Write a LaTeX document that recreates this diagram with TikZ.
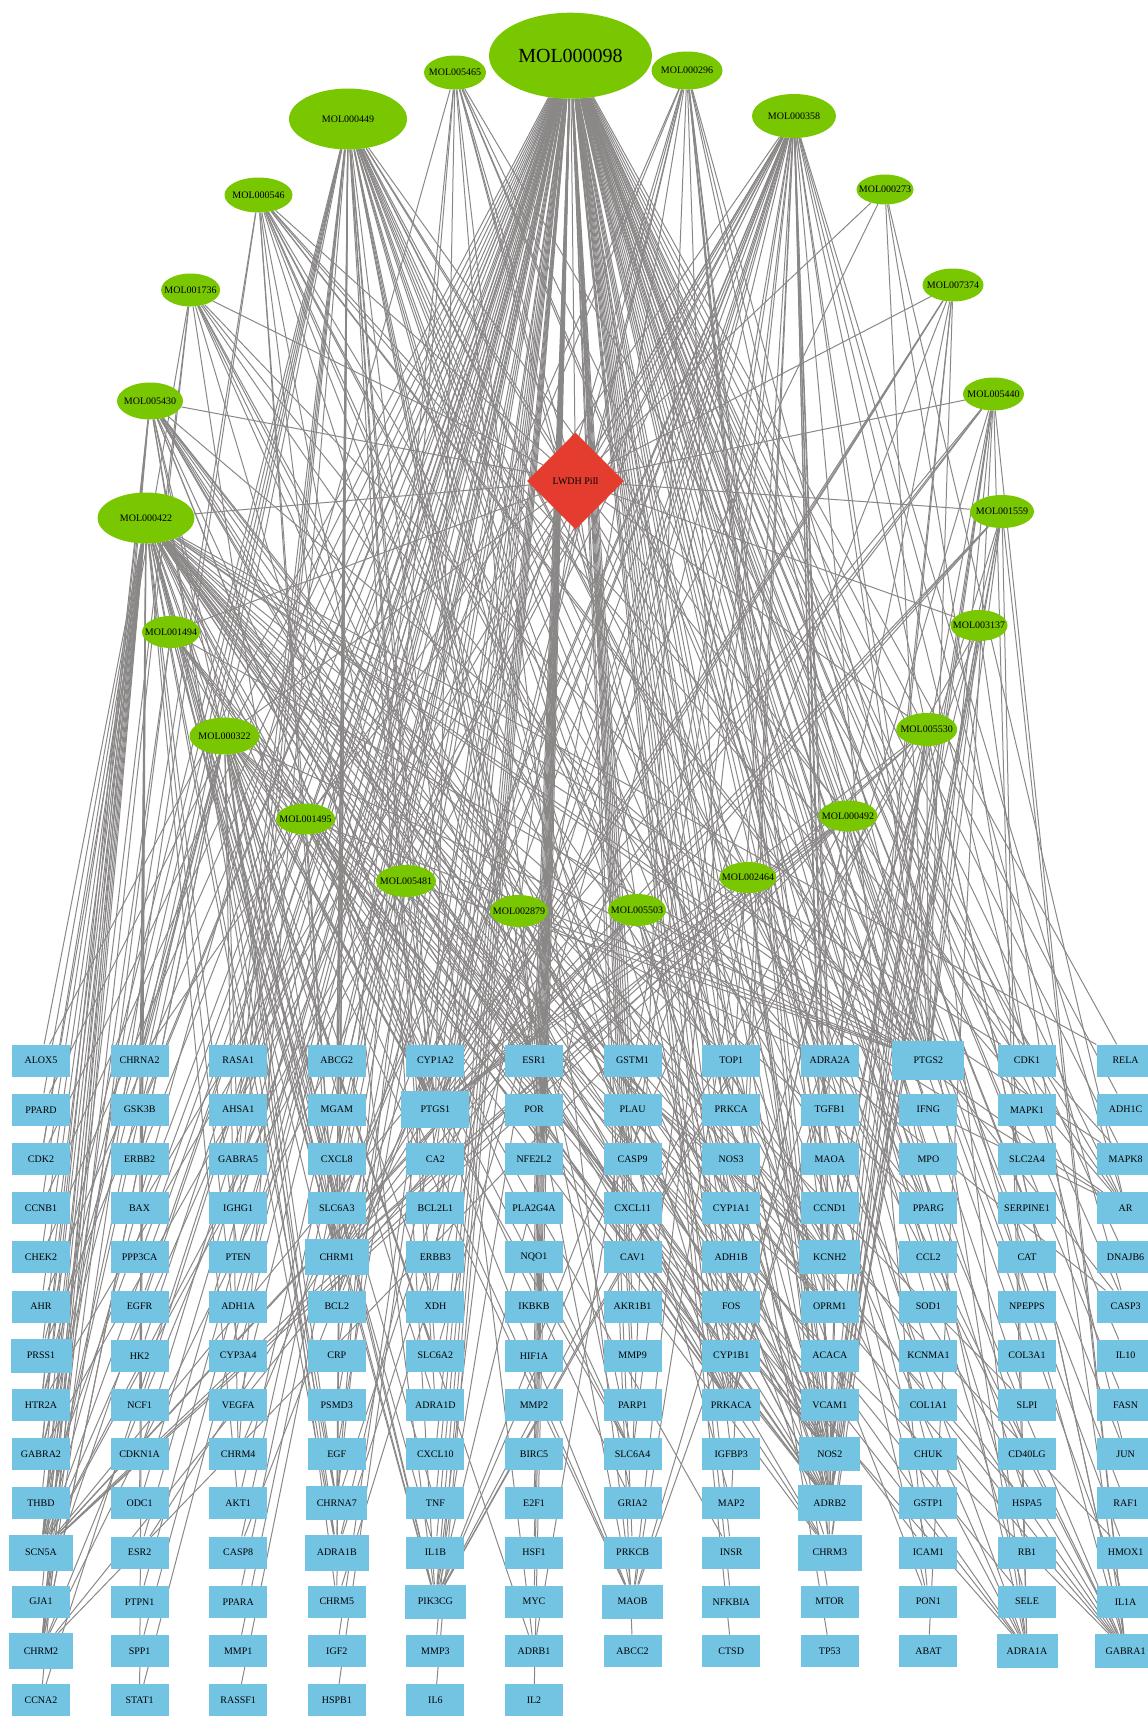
\documentclass[tikz,border=0pt]{standalone}
\usepackage{fontspec}
\setmainfont{Liberation Serif}
\usetikzlibrary{shapes.geometric,backgrounds}

\definecolor{molgreen}{RGB}{120,199,0}
\definecolor{tgtblue}{RGB}{115,195,227}
\definecolor{pillred}{RGB}{228,61,48}
\definecolor{linkgray}{RGB}{138,135,135}

\tikzset{
  mol/.style={ellipse, fill=molgreen, inner sep=0pt, font=\fontsize{10}{12}\selectfont},
  pill/.style={diamond, fill=pillred, inner sep=0pt, aspect=1, minimum width=97pt, minimum height=97pt, font=\fontsize{10}{12}\selectfont},
  tgt/.style={rectangle, fill=tgtblue, inner sep=0pt, font=\fontsize{10}{12}\selectfont},
  sz0/.style={minimum width=58pt, minimum height=32pt},
  sz1/.style={minimum width=61pt, minimum height=34pt},
  sz2/.style={minimum width=64pt, minimum height=36pt},
  sz3/.style={minimum width=68pt, minimum height=37pt},
  sz4/.style={minimum width=72pt, minimum height=39pt},
  link/.style={draw=linkgray, line width=1pt},
}
\newcommand{\molname}[1]{\makebox[0pt]{#1}}

\begin{document}
\begin{tikzpicture}[x=1pt, y=-1pt]
    \useasboundingbox (0,0) rectangle (1148,1717);

    % compounds
    \node[mol, minimum width=163pt, minimum height=86pt, font=\fontsize{20}{24}\selectfont] at (570.5,55.7) (MOL000098) {\molname{MOL000098}};
    \node[mol, minimum width=62pt, minimum height=34pt] at (455,72.5) (MOL005465) {\molname{MOL005465}};
    \node[mol, minimum width=71pt, minimum height=38pt] at (687,70.5) (MOL000296) {\molname{MOL000296}};
    \node[mol, minimum width=118pt, minimum height=61pt] at (348,119) (MOL000449) {\molname{MOL000449}};
    \node[mol, minimum width=84pt, minimum height=44pt] at (794,116) (MOL000358) {\molname{MOL000358}};
    \node[mol, minimum width=68pt, minimum height=35pt] at (258.5,195) (MOL000546) {\molname{MOL000546}};
    \node[mol, minimum width=57pt, minimum height=30pt] at (885,189.5) (MOL000273) {\molname{MOL000273}};
    \node[mol, minimum width=59pt, minimum height=33pt] at (190.6,290) (MOL001736) {\molname{MOL001736}};
    \node[mol, minimum width=61pt, minimum height=33pt] at (953,285) (MOL007374) {\molname{MOL007374}};
    \node[mol, minimum width=66pt, minimum height=37pt] at (150,401) (MOL005430) {\molname{MOL005430}};
    \node[mol, minimum width=61pt, minimum height=33pt] at (993.5,394) (MOL005440) {\molname{MOL005440}};
    \node[mol, minimum width=97pt, minimum height=51pt] at (146,518) (MOL000422) {\molname{MOL000422}};
    \node[mol, minimum width=64pt, minimum height=33pt] at (1002,511.5) (MOL001559) {\molname{MOL001559}};
    \node[mol, minimum width=58pt, minimum height=32pt] at (171,632) (MOL001494) {\molname{MOL001494}};
    \node[mol, minimum width=57pt, minimum height=31pt] at (979,625.5) (MOL003137) {\molname{MOL003137}};
    \node[mol, minimum width=70pt, minimum height=37pt] at (224.5,736) (MOL000322) {\molname{MOL000322}};
    \node[mol, minimum width=61pt, minimum height=33pt] at (926.7,729.5) (MOL005530) {\molname{MOL005530}};
    \node[mol, minimum width=59pt, minimum height=31pt] at (305.6,819) (MOL001495) {\molname{MOL001495}};
    \node[mol, minimum width=59pt, minimum height=31pt] at (848,816) (MOL000492) {\molname{MOL000492}};
    \node[mol, minimum width=60pt, minimum height=32pt] at (406,881) (MOL005481) {\molname{MOL005481}};
    \node[mol, minimum width=57pt, minimum height=31pt] at (748,877.5) (MOL002464) {\molname{MOL002464}};
    \node[mol, minimum width=58pt, minimum height=32pt] at (519,911) (MOL002879) {\molname{MOL002879}};
    \node[mol, minimum width=58pt, minimum height=32pt] at (637,910) (MOL005503) {\molname{MOL005503}};

    % the formula
    \node[pill] at (575.5,481) (LWDH) {LWDH Pill};

    % targets, column by column
    \foreach \g/\s [count=\r] in {ALOX5/0, PPARD/0, CDK2/0, CCNB1/0, CHEK2/0, AHR/0, PRSS1/1, HTR2A/0, GABRA2/0, THBD/0, SCN5A/2, GJA1/0, CHRM2/2, CCNA2/0}
        \node[tgt, sz\s] at (41, {1060.5+49.2*(\r-1)}) (\g) {\g};
    \foreach \g/\s [count=\r] in {CHRNA2/0, GSK3B/0, ERBB2/0, BAX/0, PPP3CA/0, EGFR/0, HK2/0, NCF1/0, CDKN1A/0, ODC1/0, ESR2/0, PTPN1/0, SPP1/0, STAT1/0}
        \node[tgt, sz\s] at (139.6, {1060.5+49.2*(\r-1)}) (\g) {\g};
    \foreach \g/\s [count=\r] in {RASA1/0, AHSA1/0, GABRA5/0, IGHG1/0, PTEN/0, ADH1A/0, CYP3A4/0, VEGFA/0, CHRM4/0, AKT1/0, CASP8/0, PPARA/0, MMP1/0, RASSF1/0}
        \node[tgt, sz\s] at (238.2, {1060.5+49.2*(\r-1)}) (\g) {\g};
    \foreach \g/\s [count=\r] in {ABCG2/0, MGAM/0, CXCL8/0, SLC6A3/0, CHRM1/2, BCL2/0, CRP/0, PSMD3/0, EGF/0, CHRNA7/1, ADRA1B/2, CHRM5/0, IGF2/0, HSPB1/0}
        \node[tgt, sz\s] at (336.8, {1060.5+49.2*(\r-1)}) (\g) {\g};
    \foreach \g/\s [count=\r] in {CYP1A2/0, PTGS1/3, CA2/0, BCL2L1/0, ERBB3/0, XDH/0, SLC6A2/0, ADRA1D/0, CXCL10/0, TNF/0, IL1B/0, PIK3CG/1, MMP3/0, IL6/0}
        \node[tgt, sz\s] at (435.4, {1060.5+49.2*(\r-1)}) (\g) {\g};
    \foreach \g/\s [count=\r] in {ESR1/0, POR/0, NFE2L2/0, PLA2G4A/0, NQO1/0, IKBKB/0, HIF1A/0, MMP2/0, BIRC5/0, E2F1/0, HSF1/0, MYC/0, ADRB1/0, IL2/0}
        \node[tgt, sz\s] at (534, {1060.5+49.2*(\r-1)}) (\g) {\g};
    \foreach \g/\s [count=\r] in {GSTM1/0, PLAU/0, CASP9/0, CXCL11/0, CAV1/0, AKR1B1/0, MMP9/0, PARP1/0, SLC6A4/0, GRIA2/0, PRKCB/0, MAOB/1, ABCC2/0}
        \node[tgt, sz\s] at (632.6, {1060.5+49.2*(\r-1)}) (\g) {\g};
    \foreach \g/\s [count=\r] in {TOP1/0, PRKCA/0, NOS3/0, CYP1A1/0, ADH1B/0, FOS/0, CYP1B1/0, PRKACA/0, IGFBP3/0, MAP2/0, INSR/0, NFKBIA/0, CTSD/0}
        \node[tgt, sz\s] at (731.2, {1060.5+49.2*(\r-1)}) (\g) {\g};
    \foreach \g/\s [count=\r] in {ADRA2A/0, TGFB1/0, MAOA/0, CCND1/0, KCNH2/1, OPRM1/0, ACACA/0, VCAM1/0, NOS2/1, ADRB2/2, CHRM3/2, MTOR/0, TP53/0}
        \node[tgt, sz\s] at (829.8, {1060.5+49.2*(\r-1)}) (\g) {\g};
    \foreach \g/\s [count=\r] in {PTGS2/4, IFNG/0, MPO/0, PPARG/0, CCL2/0, SOD1/0, KCNMA1/0, COL1A1/0, CHUK/0, GSTP1/0, ICAM1/0, PON1/0, ABAT/0}
        \node[tgt, sz\s] at (928.4, {1060.5+49.2*(\r-1)}) (\g) {\g};
    \foreach \g/\s [count=\r] in {CDK1/0, MAPK1/0, SLC2A4/0, SERPINE1/0, CAT/0, NPEPPS/0, COL3A1/0, SLPI/0, CD40LG/0, HSPA5/0, RB1/0, SELE/0, ADRA1A/1}
        \node[tgt, sz\s] at (1027, {1060.5+49.2*(\r-1)}) (\g) {\g};
    \foreach \g/\s [count=\r] in {RELA/0, ADH1C/0, MAPK8/0, AR/0, DNAJB6/0, CASP3/0, IL10/0, FASN/0, JUN/0, RAF1/0, HMOX1/0, IL1A/0, GABRA1/1}
        \node[tgt, sz\s] at (1125.6, {1060.5+49.2*(\r-1)}) (\g) {\g};

    \begin{pgfonlayer}{background}
    % formula -- compounds
    \foreach \m in {MOL000098, MOL005465, MOL000296, MOL000449, MOL000358, MOL000546, MOL000273, MOL001736, MOL007374, MOL005430, MOL005440, MOL000422, MOL001559, MOL001494, MOL003137, MOL000322, MOL005530, MOL001495, MOL000492, MOL005481, MOL002464, MOL002879, MOL005503}
        \draw[link] (LWDH) -- (\m);

    % compounds -- targets
    \foreach \t in {PTGS1, PTGS2, AR, PPARG, ADRB2, PRKACA, PIK3CG, CCNA2, CDK2, GSK3B, PRSS1, NOS2, ESR1, ESR2, AKT1, VEGFA, TNF, IL6, CASP3, MYC, EGFR, EGF, CCND1, MMP9, MAPK1, JUN, IL1B, MMP2, HIF1A, FOS, CXCL8, CDKN1A, MAPK8, ICAM1, SELE, VCAM1, IL10, ERBB2, ERBB3, NFKBIA, TP53, BCL2, BAX, BCL2L1, CASP9, CASP8, RELA, IKBKB, CHUK, NFE2L2, HMOX1, NQO1, GSTP1, GSTM1, CYP1A1, CYP1A2, CYP1B1, CYP3A4, PLAU, MMP1, MMP3, IFNG, CCL2, CXCL10, CXCL11, IL1A, IL2, SPP1, COL1A1, COL3A1, TOP1, PARP1, XDH, SOD1, CAT, MPO, INSR, AHR, ABCG2, ABCC2, ALOX5, AKR1B1, ACACA, CHEK2, CDK1, CCNB1, E2F1, RB1, BIRC5, HSF1, HSPB1, HSPA5, STAT1, PTEN, SERPINE1, TGFB1, THBD, POR, NOS3, PRKCA, PRKCB, RAF1, SLPI, CD40LG, CRP, PON1, IGFBP3, IGF2, CTSD, CAV1, GJA1, ODC1, NCF1, PTPN1, RASA1, RASSF1, DNAJB6, PLA2G4A, CA2, MGAM, PSMD3, IGHG1, AHSA1, HK2, PPP3CA, PPARA, PPARD, FASN, MTOR, ADH1A, ADH1B, ADH1C, KCNMA1, NPEPPS, SLC2A4}
        \draw[link] (MOL000098) -- (\t);
    \foreach \t in {PTGS1, PTGS2, AR, NOS2, PPARG, ADRB2, PRKACA, PIK3CG, CHRM1, CHRM2, CHRM3, SCN5A, KCNH2, ADRA1A, ADRA1B, CHRNA7, GABRA1, GABRA2, HTR2A, OPRM1, SLC6A3, SLC6A2, SLC6A4, MAOB, ESR1, CDK2, GSK3B, CCNA2, PRSS1, AKT1, ALOX5, AHR, HMOX1, CYP1A1, CYP1A2, CYP1B1, CYP3A4, GJA1, THBD, CHEK2, CCNB1, CDK1, PPARD, CASP3, BCL2, BAX, TOP1, NCF1, ODC1, HSPA5, SLPI, ICAM1, SELE, VCAM1, IL1B, TNF, RELA, XDH, INSR, MAPK8, PTEN, STAT1}
        \draw[link] (MOL000422) -- (\t);
    \foreach \t in {PTGS1, PTGS2, ADRA1A, ADRA1B, ADRA1D, ADRA2A, ADRB1, ADRB2, CHRM1, CHRM2, CHRM3, CHRM4, CHRM5, CHRNA2, CHRNA7, SCN5A, KCNH2, SLC6A2, SLC6A3, SLC6A4, OPRM1, GABRA1, GABRA2, GABRA5, HTR2A, MAOB, MAOA, GRIA2, PRKACA, PIK3CG, NOS2, ESR1, AR, PPARG, PLAU, MGAM, AHSA1, RASA1, PON1, ABCG2, CA2, PRSS1, MAP2, IGHG1}
        \draw[link] (MOL000449) -- (\t);
    \foreach \t in {PTGS1, PTGS2, KCNH2, CHRM1, CHRM2, CHRM3, CHRM4, CHRM5, ADRA1A, ADRA1B, ADRA2A, ADRB1, ADRB2, CHRNA7, CHRNA2, SCN5A, HTR2A, OPRM1, GABRA1, GABRA2, GABRA5, SLC6A2, SLC6A3, SLC6A4, BCL2, BAX, CASP9, CASP3, CASP8, JUN, PRKCA, PON1, MAP2, TGFB1, MAOB, PIK3CG, PRKACA, AR, ESR1}
        \draw[link] (MOL000358) -- (\t);
    \foreach \t in {PTGS1, PTGS2, ADRB2, CHRM1, CHRM2, CHRM3, SCN5A, KCNH2, ADRA1A, ADRA1B, GABRA1, SLC6A4, PRKACA, PIK3CG, NOS2, OPRM1}
        \draw[link] (MOL000296) -- (\t);
    \foreach \t in {PTGS1, PTGS2, ESR1, AR, CHRM1, ADRB2, NOS2, GABRA1, SCN5A, PPARG, MAOB, CHRNA7}
        \draw[link] (MOL005465) -- (\t);
    \foreach \t in {PTGS1, PTGS2, ADRB2, CHRM1, CHRM2, SCN5A, KCNH2, ADRA1A, GABRA1, ESR1, AR, PRKACA, NOS2, PIK3CG, BCL2, CASP3, MAPK8}
        \draw[link] (MOL000546) -- (\t);
    \foreach \t in {PTGS1, PTGS2, AR, CDK1}
        \draw[link] (MOL000273) -- (\t);
    \foreach \t in {PTGS1, PTGS2, CHRM1, CHRM2, ADRB2, SCN5A, NOS2, PRKACA, GABRA1, ESR1, PPARG, CDK2}
        \draw[link] (MOL001736) -- (\t);
    \foreach \t in {PTGS1, PTGS2, ADRB2, CHRM1, NOS2, PIK3CG, PRKACA, ESR2}
        \draw[link] (MOL007374) -- (\t);
    \foreach \t in {PTGS1, PTGS2, CHRM1, CHRM2, CHRM3, ADRB2, ADRA1A, ADRA1B, SCN5A, KCNH2, CHRNA7, GABRA1, GABRA2, HTR2A, OPRM1, SLC6A4, PRKACA, PIK3CG, NOS2, MAOB}
        \draw[link] (MOL005430) -- (\t);
    \foreach \t in {PTGS1, PTGS2, ADRB2, CHRM1, CHRM3, SCN5A, GABRA1, ADRA1A, NOS2, ABAT, KCNH2, MAOB}
        \draw[link] (MOL005440) -- (\t);
    \foreach \t in {PTGS1, PTGS2, ADRB2, CHRM1, SCN5A, GABRA1, ADRA1A, KCNH2, NOS2, PRKACA}
        \draw[link] (MOL001559) -- (\t);
    \foreach \t in {PTGS1, PTGS2, ADRB2, CHRM1, CHRM2, SCN5A, PIK3CG, NOS2, ESR1, PRKACA}
        \draw[link] (MOL001494) -- (\t);
    \foreach \t in {PTGS2, NOS2, ADRB2, GABRA1, PIK3CG, MAOB}
        \draw[link] (MOL003137) -- (\t);
    \foreach \t in {PTGS1, PTGS2, CHRM1, CHRM2, CHRM3, CHRM4, CHRM5, ADRB2, ADRA1A, ADRA1B, ADRA1D, SCN5A, KCNH2, CHRNA7, CHRNA2, GABRA1, GABRA2, GABRA5, HTR2A, OPRM1, SLC6A2, SLC6A3, SLC6A4, MAOB, PIK3CG, ADRB1}
        \draw[link] (MOL000322) -- (\t);
    \foreach \t in {PTGS1, PTGS2, ADRB2, CHRM1, CHRM3, SCN5A, KCNH2, GABRA1, NOS2, PRKACA, PIK3CG, ADRA1A}
        \draw[link] (MOL005530) -- (\t);
    \foreach \t in {PTGS1, PTGS2, ADRB2, CHRM1, SCN5A, NOS2, PRKACA, GRIA2}
        \draw[link] (MOL001495) -- (\t);
    \foreach \t in {PTGS1, PTGS2, ADRB2, CHRM1, CHRM2, SCN5A, NOS2, PIK3CG, PRKACA, ESR1}
        \draw[link] (MOL000492) -- (\t);
    \foreach \t in {PTGS1, PTGS2, ADRB2, CHRM1, SCN5A, NOS2, KCNH2, CHRNA7}
        \draw[link] (MOL005481) -- (\t);
    \foreach \t in {PTGS1, PTGS2, ADRB2, CHRM3, SCN5A, GABRA1, NOS2, ADRA1A, PIK3CG, MAOB}
        \draw[link] (MOL002464) -- (\t);
    \foreach \t in {PTGS1, PTGS2, ADRB2, CHRM1, NOS2, PIK3CG, ESR1, AR}
        \draw[link] (MOL002879) -- (\t);
    \foreach \t in {PTGS1, PTGS2, ADRB2, CHRM2, NOS2, SCN5A, PRKACA, AR}
        \draw[link] (MOL005503) -- (\t);
    \end{pgfonlayer}
\end{tikzpicture}
\end{document}
